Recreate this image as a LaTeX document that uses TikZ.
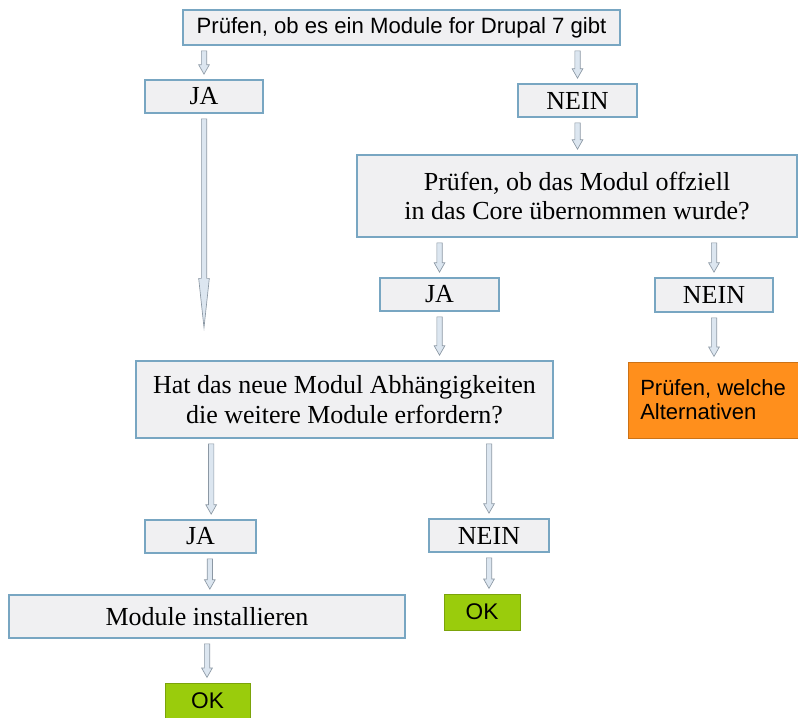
\documentclass[tikz,border=0pt]{standalone}
\usepackage{fontspec}
\setmainfont{Liberation Serif}
\setsansfont{Liberation Sans}
\usepackage{tikz}
\usetikzlibrary{calc}

\definecolor{boxfill}{HTML}{F0F0F2}
\definecolor{boxline}{HTML}{78A6C2}
\definecolor{pfeilfill}{HTML}{DCE6F0}
\definecolor{pfeilline}{HTML}{8C98A4}
\definecolor{okgreen}{HTML}{9ACC0C}
\definecolor{altorange}{HTML}{FF8F1C}

\begin{document}
\begin{tikzpicture}[x=0.75pt,
            y=-0.75pt,
            box/.style={draw=boxline,
                        fill=boxfill,
                        line width=0.8pt,
                        inner sep=0pt,
                        align=center,
                        font=\fontsize{19.5}{22}\selectfont},
            sbox/.style={box,
                         font=\sffamily\fontsize{16.6}{19}\selectfont},
            okbox/.style={draw=okgreen!80!black,
                          fill=okgreen,
                          line width=0.4pt,
                          inner sep=0pt,
                          font=\sffamily\fontsize{17}{19}\selectfont},
            altbox/.style={draw=altorange!80!black,
                           fill=altorange,
                           line width=0.4pt,
                           inner sep=0pt,
                           align=left,
                           font=\sffamily\fontsize{16.5}{18}\selectfont},
            pfeil/.style={draw=pfeilline,
                          fill=pfeilfill,
                          line width=0.5pt,
                          to path={let \p1=(\tikztostart), \p2=(\tikztotarget) in
                            (\x1-2pt,\y1-4pt) -- (\x1-2pt,\y2+4pt+#1)
                            -- (\x1-4pt,\y2+4pt+#1) -- (\x1,\y2+4pt)
                            -- (\x1+4pt,\y2+4pt+#1) -- (\x1+2pt,\y2+4pt+#1)
                            -- (\x1+2pt,\y1-4pt) -- cycle}},
            pfeil/.default=7pt]

        \useasboundingbox (0,0) rectangle (798,717);

        % Kaesten
        \node[sbox, minimum width=327.75pt, minimum height=26.25pt] (top)   at (401.5,27.5) {Prüfen, ob es ein Module for Drupal 7 gibt};
        \node[box, minimum width=88.5pt,  minimum height=24.75pt]  (ja1)   at (204,96.5)   {JA};
        \node[box, minimum width=89.25pt, minimum height=24.75pt]  (nein1) at (577.5,100.5) {NEIN};
        \node[box, minimum width=330pt,   minimum height=61.5pt]   (core)  at (577,196)    {Prüfen, ob das Modul offziell\\in das Core übernommen wurde?};
        \node[box, minimum width=89.25pt, minimum height=24.75pt]  (ja2)   at (439.5,294.5) {JA};
        \node[box, minimum width=88.5pt,  minimum height=25.5pt]   (nein2) at (714,295)    {NEIN};
        \node[altbox, minimum width=127.5pt, minimum height=57pt]  (alt)   at (713,400)    {Prüfen, welche\\Alternativen};
        \node[box, minimum width=312.75pt, minimum height=57.75pt] (hat)   at (344.5,399.5) {Hat das neue Modul Abhängigkeiten\\die weitere Module erfordern?};
        \node[box, minimum width=83.25pt, minimum height=24.75pt]  (ja3)   at (200.5,536.5) {JA};
        \node[box, minimum width=90pt,    minimum height=24.75pt]  (nein3) at (489,535.5)  {NEIN};
        \node[box, minimum width=297pt,   minimum height=32.25pt]  (inst)  at (207,616.5)  {Module installieren};
        \node[okbox, minimum width=57pt,  minimum height=27pt]     (ok2)   at (482,612)    {OK};
        \node[okbox, minimum width=63.75pt, minimum height=27pt]   (ok1)   at (207.5,701)  {OK};

        \coordinate (ende) at (201,333);

        % Pfeile
        \draw[pfeil] (top.south -| ja1) to (ja1.north);
        \draw[pfeil] (top.south -| nein1) to (nein1.north);
        \draw[pfeil] (nein1.south) to (core.north -| nein1);
        \draw[pfeil=37pt] (ja1.south) to (ende);
        \draw[pfeil] (core.south -| ja2) to (ja2.north);
        \draw[pfeil] (core.south -| nein2) to (nein2.north);
        \draw[pfeil] (ja2.south) to (hat.north -| ja2);
        \draw[pfeil] (nein2.south) to (alt.north -| nein2);
        \draw[pfeil] ($(hat.south -| ja3)+(8pt,0)$) to (ja3.north);
        \draw[pfeil] (hat.south -| nein3) to (nein3.north);
        \draw[pfeil] ($(ja3.south)+(7pt,0)$) to (inst.north);
        \draw[pfeil] (nein3.south) to (ok2.north);
        \draw[pfeil] (inst.south) to (ok1.north);

    \end{tikzpicture}
\end{document}
